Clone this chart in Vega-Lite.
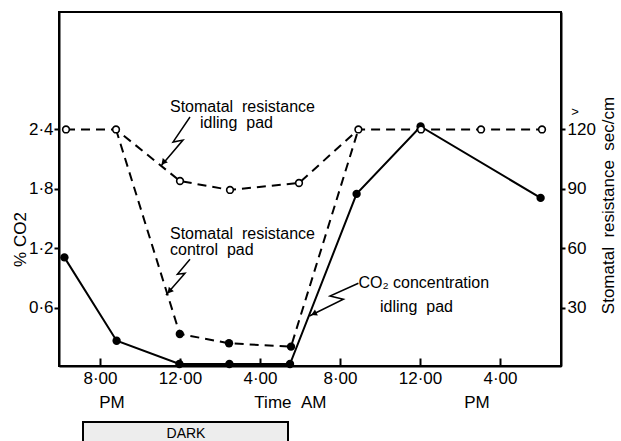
{
  "$schema": "https://vega.github.io/schema/vega-lite/v6.json",
  "width": 502,
  "height": 354,
  "autosize": "none",
  "padding": {"left": 59, "top": 12, "right": 60, "bottom": 75},
  "background": "white",
  "config": {
    "view": {"stroke": "black", "strokeWidth": 2},
    "font": "Liberation Sans",
    "axis": {
      "grid": false,
      "domainColor": "black",
      "domainWidth": 2,
      "tickColor": "black",
      "tickWidth": 2,
      "labelColor": "black",
      "labelFont": "Liberation Sans",
      "labelFontSize": 17,
      "titleFont": "Liberation Sans",
      "titleFontSize": 17,
      "titleFontWeight": "normal",
      "titleColor": "black"
    }
  },
  "datasets": {
    "co2": [
      {"hour": 18.22, "v": 1.11},
      {"hour": 20.83, "v": 0.27},
      {"hour": 23.97, "v": 0.035},
      {"hour": 26.47, "v": 0.035},
      {"hour": 29.5, "v": 0.035},
      {"hour": 32.83, "v": 1.75},
      {"hour": 36.03, "v": 2.43},
      {"hour": 42.03, "v": 1.71}
    ],
    "idle": [
      {"hour": 18.3, "r": 120},
      {"hour": 20.8, "r": 120},
      {"hour": 24.0, "r": 94},
      {"hour": 26.5, "r": 89.5},
      {"hour": 29.95, "r": 93},
      {"hour": 32.92, "r": 120},
      {"hour": 36.05, "r": 120},
      {"hour": 39.05, "r": 120},
      {"hour": 42.1, "r": 120}
    ],
    "ctrl": [
      {"hour": 20.8, "r": 120},
      {"hour": 23.99, "r": 16.9},
      {"hour": 26.45, "r": 12.2},
      {"hour": 29.55, "r": 10.5},
      {"hour": 32.92, "r": 120}
    ],
    "notes": [
      {"hour": 23.5, "v": 2.575, "label": "Stomatal\u00a0\u00a0resistance"},
      {"hour": 25.0, "v": 2.417, "label": "idling\u00a0\u00a0pad"},
      {"hour": 23.5, "v": 1.30, "label": "Stomatal\u00a0\u00a0resistance"},
      {"hour": 23.5, "v": 1.134, "label": "control\u00a0\u00a0pad"},
      {"hour": 32.92, "v": 0.80, "label": "CO\u2082 concentration"},
      {"hour": 34.0, "v": 0.5625, "label": "idling\u00a0\u00a0pad"}
    ],
    "bolts": [
      {"id": "a", "ord": 1, "hour": 24.5, "v": 2.525},
      {"id": "a", "ord": 2, "hour": 23.65, "v": 2.273},
      {"id": "a", "ord": 3, "hour": 24.15, "v": 2.293},
      {"id": "a", "ord": 4, "hour": 23.05, "v": 2.031},
      {"id": "b", "ord": 1, "hour": 24.5, "v": 1.091},
      {"id": "b", "ord": 2, "hour": 23.87, "v": 0.94},
      {"id": "b", "ord": 3, "hour": 24.25, "v": 0.95},
      {"id": "b", "ord": 4, "hour": 23.3, "v": 0.731},
      {"id": "c", "ord": 1, "hour": 32.92, "v": 0.849},
      {"id": "c", "ord": 2, "hour": 31.5, "v": 0.721},
      {"id": "c", "ord": 3, "hour": 32.17, "v": 0.688},
      {"id": "c", "ord": 4, "hour": 30.47, "v": 0.519}
    ],
    "heads": [
      {"hour": 23.17, "v": 2.068, "ang": 221},
      {"hour": 23.47, "v": 0.769, "ang": 221},
      {"hour": 30.69, "v": 0.541, "ang": 244}
    ],
    "timelabels": [
      {"hour": 20.6, "v": -0.408, "label": "PM"},
      {"hour": 29.52, "v": -0.408, "label": "Time\u00a0\u00a0AM"},
      {"hour": 38.85, "v": -0.408, "label": "PM"}
    ],
    "dark": [
      {"hour": 19.15, "hour2": 29.4, "v": -0.549, "v2": -0.85, "label": "DARK", "mid": 24.3, "tv": -0.714}
    ],
    "gt": [
      {"hour": 43.75, "v": 2.575, "label": ">"}
    ]
  },
  "encoding": {
    "x": {
      "field": "hour",
      "type": "quantitative",
      "scale": {"domain": [17.95, 43.05], "nice": false, "zero": false},
      "axis": {
        "values": [20, 24, 28, 32, 36, 40],
        "labelExpr": "(datum.value == 20 || datum.value == 32) ? '8·00' : ((datum.value == 24 || datum.value == 36) ? '12·00' : '4·00')",
        "tickSize": -8,
        "labelPadding": 12,
        "title": null,
        "labelFlush": false
      }
    }
  },
  "layer": [
    {
      "encoding": {
        "y": {
          "field": "v",
          "type": "quantitative",
          "scale": {"domain": [0.015, 3.584], "nice": false, "zero": false},
          "axis": {
            "orient": "left",
            "values": [0.6, 1.2, 1.8, 2.4],
            "format": ".1f",
            "labelExpr": "replace(datum.label, '.', '·')",
            "tickSize": 5,
            "labelPadding": 1,
            "title": "%\u00a0CO2",
            "titleAngle": 270,
            "titleX": -39,
            "titleY": 227,
            "titleAlign": "center",
            "titleBaseline": "middle"
          }
        }
      },
      "layer": [
        {
          "data": {"name": "co2"},
          "mark": {"type": "line", "color": "black", "strokeWidth": 2}
        },
        {
          "data": {"name": "co2"},
          "mark": {"type": "point", "filled": true, "color": "black", "size": 70, "opacity": 1}
        },
        {
          "data": {"name": "bolts"},
          "mark": {"type": "line", "color": "black", "strokeWidth": 1.5},
          "encoding": {"detail": {"field": "id"}, "order": {"field": "ord", "type": "quantitative"}}
        },
        {
          "data": {"name": "heads"},
          "mark": {"type": "point", "shape": "triangle-up", "filled": true, "color": "black", "size": 45, "opacity": 1},
          "encoding": {"angle": {"field": "ang", "type": "quantitative", "scale": null}}
        },
        {
          "data": {"name": "notes"},
          "mark": {"type": "text", "align": "left", "baseline": "alphabetic", "fontSize": 16, "color": "black", "font": "Liberation Sans"},
          "encoding": {"text": {"field": "label"}}
        },
        {
          "data": {"name": "timelabels"},
          "mark": {"type": "text", "align": "center", "baseline": "alphabetic", "fontSize": 17, "color": "black", "font": "Liberation Sans"},
          "encoding": {"text": {"field": "label"}}
        },
        {
          "data": {"name": "dark"},
          "mark": {"type": "rect", "fill": "#ededed", "stroke": "black", "strokeWidth": 2},
          "encoding": {"x2": {"field": "hour2"}, "y2": {"field": "v2"}}
        },
        {
          "data": {"name": "dark"},
          "mark": {"type": "text", "align": "center", "baseline": "alphabetic", "fontSize": 14, "color": "black", "font": "Liberation Sans"},
          "encoding": {"x": {"field": "mid", "type": "quantitative"}, "y": {"field": "tv", "type": "quantitative"}, "text": {"field": "label"}}
        },
        {
          "data": {"name": "gt"},
          "mark": {"type": "text", "align": "center", "baseline": "middle", "fontSize": 13, "color": "black", "font": "Liberation Sans"},
          "encoding": {"text": {"field": "label"}}
        }
      ]
    },
    {
      "encoding": {
        "y": {
          "field": "r",
          "type": "quantitative",
          "scale": {"domain": [0.75, 179.2], "nice": false, "zero": false},
          "axis": {
            "orient": "right",
            "values": [30, 60, 90, 120],
            "tickSize": 4,
            "labelPadding": 2,
            "title": "Stomatal\u00a0\u00a0resistance\u00a0\u00a0sec/cm",
            "titleAngle": 270,
            "titleX": 47,
            "titleY": 193,
            "titleAlign": "center",
            "titleBaseline": "middle"
          }
        }
      },
      "layer": [
        {
          "data": {"name": "ctrl"},
          "mark": {"type": "line", "color": "black", "strokeWidth": 2, "strokeDash": [9, 6]}
        },
        {
          "data": {"name": "idle"},
          "mark": {"type": "line", "color": "black", "strokeWidth": 2, "strokeDash": [9, 6]}
        },
        {
          "data": {"name": "ctrl"},
          "transform": [{"filter": "datum.r < 60"}],
          "mark": {"type": "point", "filled": true, "color": "black", "size": 70, "opacity": 1}
        },
        {
          "data": {"name": "idle"},
          "mark": {"type": "point", "filled": true, "fill": "white", "stroke": "black", "strokeWidth": 1.6, "size": 45, "opacity": 1}
        }
      ]
    }
  ],
  "resolve": {"scale": {"y": "independent"}}
}
